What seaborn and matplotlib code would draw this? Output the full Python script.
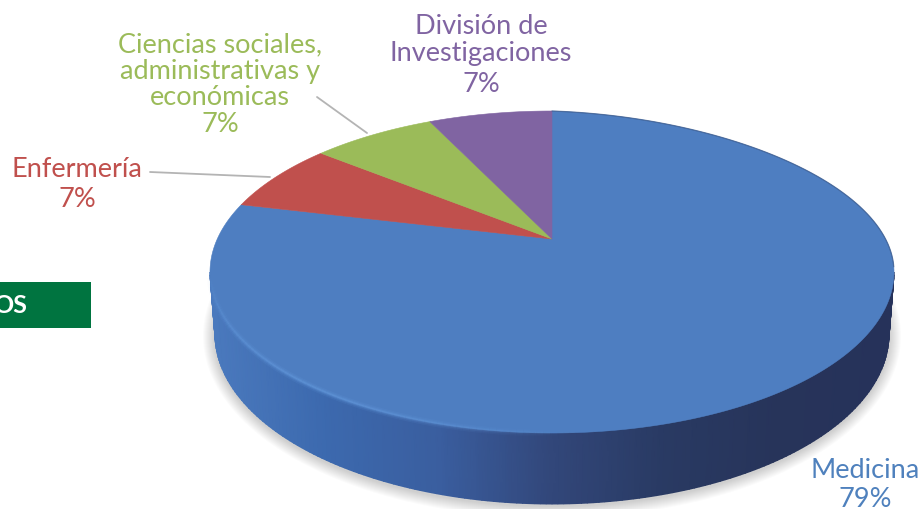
import numpy as np
import matplotlib
matplotlib.use("Agg")
import matplotlib.pyplot as plt
from matplotlib.patches import Rectangle
import seaborn as sns

categories = ["Medicina", "Enfermería", "Ciencias sociales,\nadministrativas y\neconómicas", "División de\nInvestigaciones"]
values = [79, 7, 7, 7]
colors = ["#4E7EC1", "#C0504D", "#9BBB59", "#8064A2"]
text_colors = ["#4F81BD", "#C0504D", "#9BBB59", "#8064A2"]
name_xy = [(865, 471), (77, 170), (220, 71), (481, 40)]
percent_xy = [(865, 500), (77, 200), (220, 125), (481, 84)]
banner_text = "OS"

sns.set_theme(style="white")
plt.rcParams["font.family"] = ["Lato", "DejaVu Sans"]

# projection of the pie disc on the picture
APEX = (552, 240)
TOP = dict(cx=552, cy=273, rx=342, ry=161, sag=6)
BOTTOM = dict(cx=552, cy=335, rx=337, ry=170, sag=0)
PERSPECTIVE = 0.826


def ellipse(t, e):
    t = np.asarray(t)
    m = np.mod(t, 2 * np.pi)
    sag = e["sag"] * np.sin(2 * m) * (m < np.pi / 2)
    return e["cx"] + e["rx"] * np.sin(t), e["cy"] - e["ry"] * np.cos(t) + sag


def rim_param(theta_deg):
    half = np.radians(90 - np.asarray(theta_deg)) / 2
    return 2 * np.arctan2(PERSPECTIVE * np.sin(half), np.cos(half))


fig = plt.figure(figsize=(9.22, 5.10), dpi=100)
ax = fig.add_axes([0, 0, 1, 1])
wedges, _ = ax.pie(values, startangle=90, counterclock=False, colors=colors)
spans = [(w.theta1, w.theta2) for w in wedges]
for w in wedges:
    w.remove()
ax.set_aspect("auto")
ax.set_xlim(0, 922)
ax.set_ylim(510, 0)
ax.axis("off")

# soft shadow
t_all = np.linspace(0, 2 * np.pi, 240)
for k in range(12):
    grow = 12 - k * 1.0
    e = dict(cx=BOTTOM["cx"], cy=BOTTOM["cy"] + 2, rx=BOTTOM["rx"] + grow, ry=BOTTOM["ry"] + grow, sag=0)
    sx, sy = ellipse(t_all, e)
    ax.fill(sx, sy, color="black", alpha=0.016, lw=0, zorder=1)

# side wall
t_side = np.linspace(np.pi / 2, 3 * np.pi / 2, 181)
x0, y0 = ellipse(t_side, TOP)
x1, y1 = ellipse(t_side, BOTTOM)
X = np.vstack([x0, x1])
Y = np.vstack([y0, y1])
C = np.vstack([x0, x0])
wall = sns.blend_palette(["#4A79BD", "#3C69AE", "#3A5E9F", "#32477A", "#293A63", "#27345A", "#26325A"], as_cmap=True)
ax.pcolormesh(X, Y, C, cmap=wall, shading="gouraud", zorder=2, vmin=212, vmax=893)

# top surface: one slice per value
for (th1, th2), col, val in zip(spans, colors, values):
    t = rim_param(np.linspace(th2, th1, max(int(val * 6), 40)))
    rx, ry = ellipse(t, TOP)
    ax.fill(np.r_[APEX[0], rx], np.r_[APEX[1], ry], color=col, lw=0.4, zorder=3)

# faint dark edge on the far rim
t_far = np.radians(np.linspace(0, 88, 60))
fx, fy = ellipse(t_far, TOP)
ax.plot(fx, fy, color="#34507F", lw=0.9, alpha=0.6, zorder=4)

# bevel highlight on the front rim
t_hi = np.radians(np.linspace(178, 268, 80))
hx, hy = ellipse(t_hi, TOP)
fade = np.sin(np.linspace(0, np.pi, 80)) ** 0.7
for i in range(len(t_hi) - 1):
    for width, strength in [(5.0, 0.10), (3.0, 0.16), (1.6, 0.22)]:
        ax.plot(hx[i:i + 2], hy[i:i + 2], color="#6FA8EC", lw=width, alpha=strength * fade[i], zorder=4, solid_capstyle="butt")

# leader lines
ax.annotate("", xy=(270, 178), xytext=(150, 173), arrowprops=dict(arrowstyle="-", color="#B4B4B4", lw=1.3, shrinkA=0, shrinkB=0))
ax.annotate("", xy=(367, 134), xytext=(317, 98), arrowprops=dict(arrowstyle="-", color="#B4B4B4", lw=1.3, shrinkA=0, shrinkB=0))

# labels
for cat, val, (nx, ny), (px, py), col in zip(categories, values, name_xy, percent_xy, text_colors):
    ax.text(nx, ny, cat, ha="center", va="center", color=col, fontsize=19.5, linespacing=1.07, zorder=5)
    ax.text(px, py, f"{val}%", ha="center", va="center", color=col, fontsize=19.5, zorder=5)

# cropped banner
ax.add_patch(Rectangle((0, 283), 91, 46, color="#007440", lw=0, zorder=5))
ax.text(27, 306, banner_text, ha="right", va="center", color="white", fontsize=18, fontweight="bold", zorder=6)

fig.savefig("out.png", dpi=100)
